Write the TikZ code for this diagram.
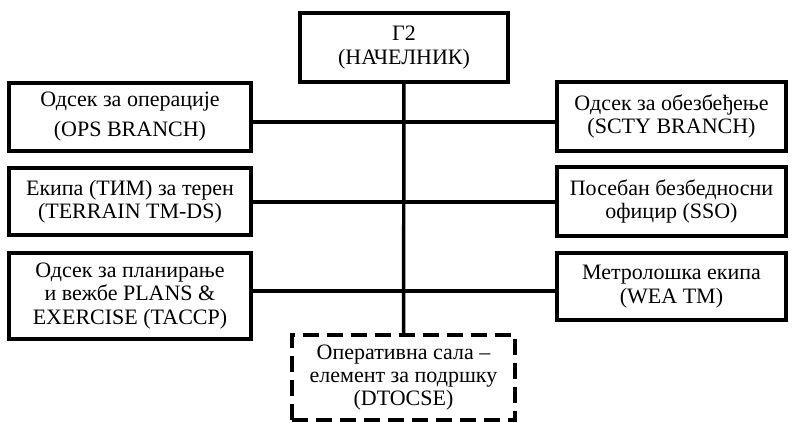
\documentclass[tikz,border=0pt]{standalone}
\usepackage{fontspec}
\setmainfont{Liberation Serif}
\newfontfamily\orgfont{Liberation Serif}
\begin{document}
\begin{tikzpicture}[x=0.75pt,y=-0.75pt,
        unit/.style={draw,line width=2.8pt,align=center,inner sep=0pt,font=\orgfont\fontsize{16.5}{17.5}\selectfont},
        support/.style={unit,dash pattern=on 12pt off 6pt}]
                \useasboundingbox (0,0) rectangle (794,423);
                \node[unit,minimum width=156pt,minimum height=51.75pt] (g2) at (404,47.5) {Г2\\(НАЧЕЛНИК)};
                \node[unit,minimum width=181.5pt,minimum height=51pt] (ops) at (130,117) {Одсек за операције\\[5pt](OPS BRANCH)};
                \node[unit,minimum width=181.5pt,minimum height=50.25pt] (terrain) at (130,201.5) {Екипа (ТИМ) за терен\\(TERRAIN TM-DS)};
                \node[unit,minimum width=181.5pt,minimum height=64.5pt] (plans) at (130,296) {Одсек за планирање\\и вежбе PLANS \&\\EXERCISE (TACCP)};
                \node[unit,minimum width=171.75pt,minimum height=51.75pt] (scty) at (671.5,116.5) {Одсек за обезбеђење\\(SCTY BRANCH)};
                \node[unit,minimum width=171.75pt,minimum height=51.75pt] (sso) at (671.5,201.5) {Посебан безбедносни\\официр (SSO)};
                \node[unit,minimum width=171.75pt,minimum height=50.25pt] (wea) at (671.5,286.5) {Метролошка екипа\\(WEA TM)};
                \node[support,minimum width=167.25pt,minimum height=63.75pt] (dtocse) at (403.5,377.5) {Оперативна сала –\\елемент за подршку\\(DTOCSE)};

                \coordinate (j1) at (404,122);
                \coordinate (j2) at (404,202);
                \coordinate (j3) at (404,291);

                \draw[line width=2.6pt] (g2) -- (dtocse);
                \draw[line width=2.6pt] (ops.east |- j1) -- (scty.west |- j1);
                \draw[line width=2.6pt] (terrain.east |- j2) -- (sso.west |- j2);
                \draw[line width=2.6pt] (plans.east |- j3) -- (wea.west |- j3);
\end{tikzpicture}
\end{document}
